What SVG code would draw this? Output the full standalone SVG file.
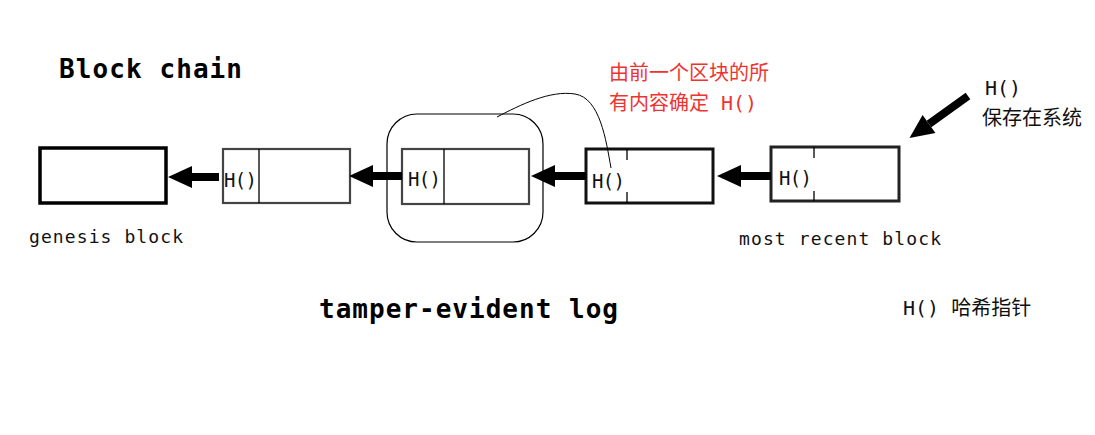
<svg xmlns="http://www.w3.org/2000/svg" width="1095" height="435" viewBox="0 0 1095 435">
<style>
.mono{font-family:"DejaVu Sans Mono","Liberation Mono",monospace;fill:#111}
.title{font-family:"DejaVu Sans Mono","Liberation Mono",monospace;font-weight:bold;font-size:26px;fill:#000}
.cjk{font-family:"DejaVu Sans Mono","Noto Sans CJK SC",sans-serif;font-size:20px}
.blk{fill:#fff}
.div{stroke:#000;stroke-width:1.3}
.arr{stroke:#000;stroke-width:8;fill:none;marker-end:url(#ah)}
</style>
<defs>
<marker id="ah" markerUnits="userSpaceOnUse" markerWidth="26" markerHeight="24" refX="0" refY="11" orient="auto" overflow="visible">
<path d="M0,0 L24,11 L0,22 Z" fill="#000"/>
</marker>
</defs>
<rect width="1095" height="435" fill="#fff"/>
<text class="title" x="59" y="78" textLength="183">Block chain</text>
<text class="title" x="319" y="318" textLength="299">tamper-evident log</text>
<g id="genesis">
<rect class="blk" x="40" y="148" width="126" height="55" stroke="#000" stroke-width="3.5"/>
<text class="mono" x="29" y="243" font-size="18" textLength="154">genesis block</text>
</g>
<g id="block2">
<rect class="blk" x="223" y="149" width="127" height="54" stroke="#444" stroke-width="2.2"/>
<line class="div" x1="259" y1="149" x2="259" y2="203"/>
<text class="mono" x="224" y="187" font-size="19" textLength="33">H()</text>
</g>
<g id="block3">
<rect x="387" y="114" width="156" height="128" rx="30" fill="none" stroke="#000" stroke-width="1.2"/>
<rect class="blk" x="402" y="149" width="127" height="55" stroke="#444" stroke-width="2.2"/>
<line class="div" x1="444" y1="149" x2="444" y2="204"/>
<text class="mono" x="408" y="186" font-size="19" textLength="33">H()</text>
</g>
<g id="block4">
<rect class="blk" x="586" y="149" width="127" height="54" stroke="#111" stroke-width="3"/>
<line class="div" x1="627" y1="149" x2="627" y2="160"/>
<line class="div" x1="627" y1="192" x2="627" y2="203"/>
<text class="mono" x="592" y="188" font-size="19" textLength="33">H()</text>
</g>
<g id="block5">
<rect class="blk" x="771" y="147" width="128" height="54" stroke="#222" stroke-width="3"/>
<line class="div" x1="814" y1="147" x2="814" y2="158"/>
<line class="div" x1="814" y1="191" x2="814" y2="201"/>
<text class="mono" x="779" y="185" font-size="19" textLength="33">H()</text>
<text class="mono" x="739" y="245" font-size="18" textLength="202">most recent block</text>
</g>
<g id="note-red">
<text class="cjk" x="609" y="80" fill="#ee3333">由前一个区块的所</text>
<text class="cjk" x="609" y="110" fill="#ee3333">有内容确定 H()</text>
</g>
<g id="note-system">
<text class="cjk" x="985" y="95" fill="#111">H()</text>
<text class="cjk" x="982" y="125" fill="#111">保存在系统</text>
</g>
<g id="legend">
<text class="cjk" x="903" y="315" font-size="18.5" fill="#111">H() 哈希指针</text>
</g>
<g id="connectors">
<line class="arr" x1="219" y1="177" x2="192" y2="177"/>
<line class="arr" x1="402" y1="176" x2="373" y2="176"/>
<line class="arr" x1="586" y1="176" x2="555" y2="176"/>
<line class="arr" x1="771" y1="176" x2="741" y2="176"/>
<line class="arr" x1="968" y1="96" x2="929" y2="124"/>
<path d="M497,117 C520,105 550,90 575,94 C600,98 606,140 611,168" fill="none" stroke="#000" stroke-width="1"/>
</g>
</svg>
